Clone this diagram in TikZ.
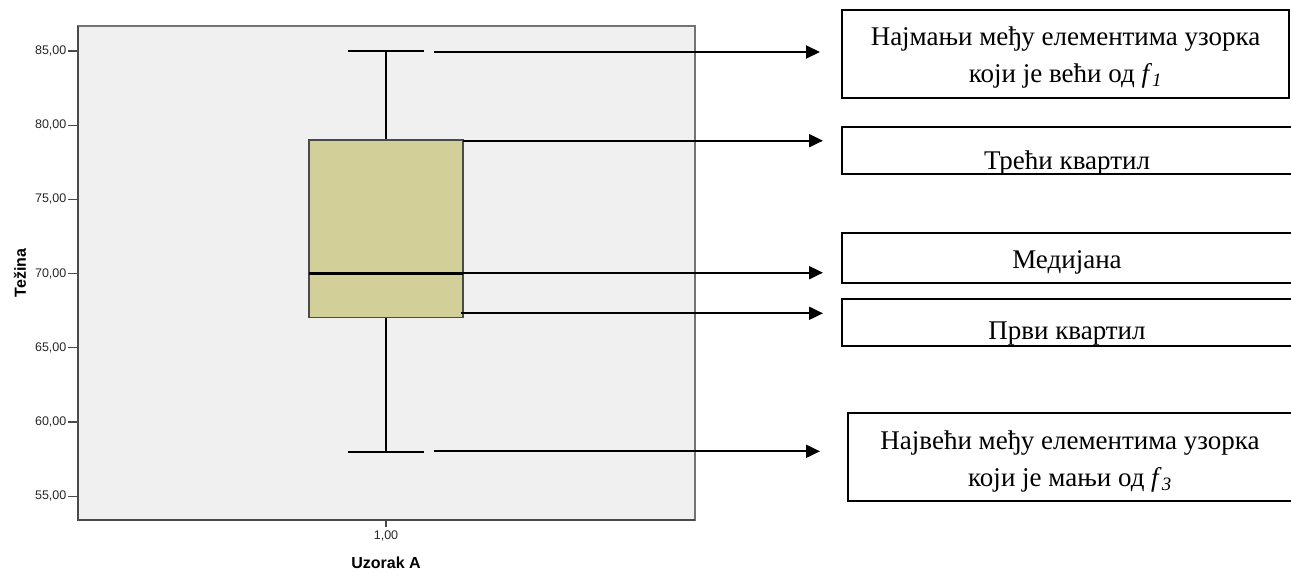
\documentclass[tikz,border=0pt]{standalone}
\usepackage{fontspec}
\setmainfont{Liberation Serif}
\newfontfamily\spssfont{Liberation Sans}
\usetikzlibrary{arrows.meta}
\definecolor{plotbg}{HTML}{F0F0F0}
\definecolor{boxfill}{HTML}{D3CF99}
\definecolor{axisgray}{HTML}{4A4A4A}

\begin{document}
\begin{tikzpicture}[x=1pt,y=-1pt]
\tikzset{ pointer/.style={-{Triangle[length=14pt,width=13pt]}, line width=2pt},
 infobox/.style={draw, line width=2pt, inner sep=0pt, outer sep=0pt, anchor=north west},
 boxtxt/.style={font=\fontsize{27}{37}\selectfont, align=center, inner sep=0pt},
 ticklbl/.style={font=\spssfont\fontsize{12.5}{14}\selectfont, text=black!85, inner sep=1pt}}
\useasboundingbox (0,0) rectangle (1291,571);

% plot area
\draw[fill=plotbg, draw=gray!90!black, line width=1.3pt] (78,26) rectangle (695,520);
\draw[axisgray, line width=1.3pt] (78,26) -- (78,520) -- (695,520);
\foreach \v in {55,60,...,85}
  \draw[axisgray, line width=1.3pt] (68,{51+(85-\v)*14.84}) node[ticklbl, anchor=east] (tick\v) {\v,00} -- (78,{51+(85-\v)*14.84});
\draw[axisgray, line width=1.3pt] (386,520) -- (386,527);
\node[ticklbl] (xtick) at (386,536) {1,00};
\node[font=\spssfont\bfseries\fontsize{16}{18}\selectfont] (xtitle) at (386,563) {Uzorak A};
\node[font=\spssfont\bfseries\fontsize{16}{18}\selectfont, rotate=90] (ytitle) at (20,273) {Težina};

% whiskers and box
\draw[line width=1.6pt] (348,51) -- (424,51) (386,51) -- (386,140);
\draw[line width=1.6pt] (348,451.7) -- (424,451.7) (386,317.7) -- (386,451.7);
\draw[fill=boxfill, draw=axisgray, line width=1.4pt] (309,140) rectangle (463,317.7);
\draw[line width=2.4pt] (309,273.6) -- (463,273.6);

% explanation boxes
\node[infobox, minimum width=447pt, minimum height=88pt] (maxbox) at (842,10) {};
\node[boxtxt] (maxtxt) at ([yshift=-4pt]maxbox.center) {Најмањи међу елементима узорка\\ који је већи од \textit{f}\textsubscript{\textit{1}}};

\node[infobox, minimum width=450pt, minimum height=47pt] (q3box) at (842,127) {};
\begin{scope}
\clip (q3box.south west) rectangle (q3box.north east);
\node[boxtxt, anchor=base] (q3txt) at ([yshift=-18.5pt]q3box.center) {Трећи квартил};
\end{scope}

\node[infobox, minimum width=450pt, minimum height=50pt] (medbox) at (842,233) {};
\node[boxtxt, anchor=base] (medtxt) at ([yshift=-10pt]medbox.center) {Медијана};

\node[infobox, minimum width=450pt, minimum height=47pt] (q1box) at (842,299) {};
\begin{scope}
\clip (q1box.south west) rectangle (q1box.north east);
\node[boxtxt, anchor=base] (q1txt) at ([yshift=-17pt]q1box.center) {Први квартил};
\end{scope}

\node[infobox, minimum width=444pt, minimum height=88pt] (minbox) at (848,413) {};
\node[boxtxt] (mintxt) at ([yshift=-4.5pt]minbox.center) {Највећи међу елементима узорка\\ који је мањи од \textit{f}\textsubscript{\textit{3}}};

% arrows
\coordinate (maxpt) at (434,52);   \coordinate (maxend) at (820,52);
\coordinate (q3pt) at (463,140.7); \coordinate (q3end) at (823,140.7);
\coordinate (medpt) at (463,272.7); \coordinate (medend) at (823,272.7);
\coordinate (q1pt) at (461,313.3); \coordinate (q1end) at (823,313.3);
\coordinate (minpt) at (434,451.3); \coordinate (minend) at (820,451.3);
\draw[pointer] (maxpt) -- (maxend);
\draw[pointer] (q3pt) -- (q3end);
\draw[pointer] (medpt) -- (medend);
\draw[pointer] (q1pt) -- (q1end);
\draw[pointer] (minpt) -- (minend);
\end{tikzpicture}
\end{document}
